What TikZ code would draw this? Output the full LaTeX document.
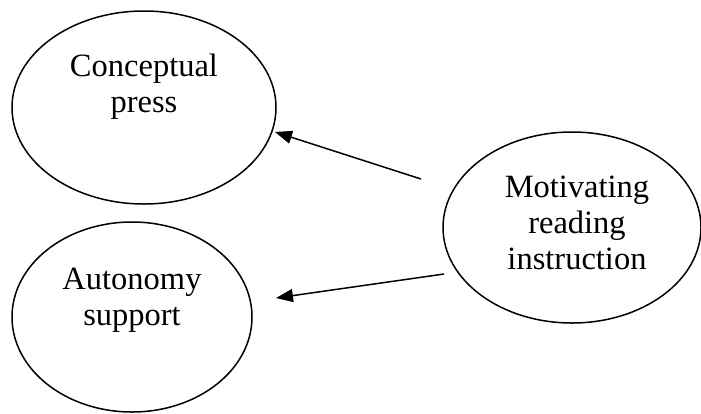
\documentclass[tikz,border=0pt]{standalone}
\usepackage{fontspec}
\setmainfont{Liberation Serif}
\usetikzlibrary{shapes.geometric,arrows.meta}
\begin{document}
\begin{tikzpicture}[x=1pt,y=-1pt,
  bubble/.style={draw,ellipse,line width=1.5pt,inner sep=0pt},
  lbl/.style={align=center,inner sep=0pt,anchor=base,
    font=\fontsize{32.5pt}{36pt}\selectfont},
  link/.style={line width=1.5pt,-{Triangle[length=17pt,width=13pt]}}]
  \useasboundingbox (0,0) rectangle (701,413);

  % the three constructs
  \node[bubble,minimum width=264pt,minimum height=193pt] (cp)  at (144,107.5) {};
  \node[bubble,minimum width=240pt,minimum height=190pt] (as)  at (132,317) {};
  \node[bubble,minimum width=258pt,minimum height=191pt] (mri) at (572,227.5) {};

  % labels, placed by the baseline of their last line
  \node[lbl] (cpt)  at (144,112) {Conceptual\\press};
  \node[lbl] (ast)  at (132,325) {Autonomy\\support};
  \node[lbl] (mrit) at (577,269) {Motivating\\reading\\instruction};

  % free-floating connector ends
  \coordinate (s1) at (421,179);
  \coordinate (t1) at (275,132);
  \coordinate (s2) at (444,274);
  \coordinate (t2) at (276,298);

  \draw[link] (s1) -- (t1);
  \draw[link] (s2) -- (t2);
\end{tikzpicture}
\end{document}
